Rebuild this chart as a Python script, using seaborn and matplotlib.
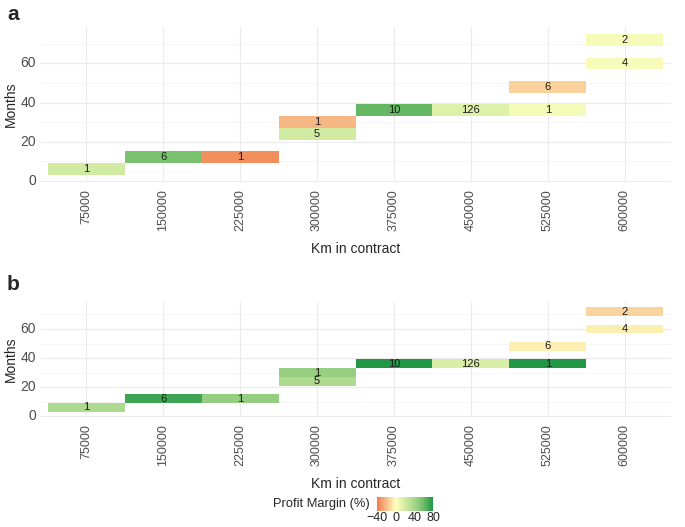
import numpy as np
import pandas as pd
import seaborn as sns
import matplotlib.pyplot as plt
from matplotlib.colors import LinearSegmentedColormap

# tiles: km in contract, months, number of contracts, profit margin (%)
km = [75000, 150000, 225000, 300000, 300000, 375000, 450000, 525000, 525000, 600000, 600000]
months = [6, 12, 12, 24, 30, 36, 36, 36, 48, 60, 72]
counts = [1, 6, 1, 5, 1, 10, 126, 1, 6, 4, 2]
margin_a = [20, 55, -34, 20, -22, 62, 15, 5, -14, 4, 4]
margin_b = [36, 72, 46, 36, 45, 79, 18, 79, -5, -5, -13]

km_levels = [75000, 150000, 225000, 300000, 375000, 450000, 525000, 600000]
month_levels = [6, 12, 18, 24, 30, 36, 42, 48, 54, 60, 66, 72]

sns.set_theme(style="white")
plt.rcParams["font.family"] = ["Liberation Sans", "DejaVu Sans"]

cmap = LinearSegmentedColormap.from_list(
    "pm", [(0.0, "#F07C4B"), (1/6, "#F8BE8C"), (1/3, "#FFFFBF"), (0.5, "#D3EBA2"),
           (2/3, "#A6D68A"), (5/6, "#6DBB68"), (1.0, "#1E9644")])

df = pd.DataFrame({"km": km, "months": months, "n": counts, "a": margin_a, "b": margin_b})

def grid(col):
    return df.pivot(index="months", columns="km", values=col).reindex(index=month_levels, columns=km_levels)

fig = plt.figure(figsize=(6.85, 5.27), dpi=100)
L, R = 40 / 685, 671 / 685
ax_a = fig.add_axes([L, 1 - 182 / 527, R - L, 155 / 527])
ax_b = fig.add_axes([L, 1 - 417 / 527, R - L, 115 / 527])
cax = fig.add_axes([377 / 685, 1 - 511 / 527, 56 / 685, 14 / 527])

to_y = lambda m: (np.asarray(m, dtype=float) - 3) / 6  # month -> heatmap row coord

for ax, col, first in [(ax_a, "a", True), (ax_b, "b", False)]:
    ax.set_axisbelow(True)
    sns.heatmap(grid(col), ax=ax, cmap=cmap, vmin=-40, vmax=80,
                annot=grid("n"), fmt=".0f", annot_kws={"color": "#1A1A1A", "fontsize": 8},
                cbar=not first, cbar_ax=None if first else cax,
                cbar_kws=None if first else {"orientation": "horizontal", "ticks": [-40, 0, 40, 80]})
    ax.set_xlim(-0.1, 8.1)
    ax.set_ylim(to_y(-0.6), to_y(78.6))
    ax.set_xticks(np.arange(8) + 0.5)
    ax.set_xticklabels([str(k) for k in km_levels], rotation=90, fontsize=9, color="#4D4D4D")
    ax.set_yticks(to_y([0, 20, 40, 60]))
    ax.set_yticklabels(["0", "20", "40", "60"], rotation=0, fontsize=10, color="#4D4D4D")
    ax.set_yticks(to_y([10, 30, 50, 70]), minor=True)
    ax.grid(True, which="major", color="#EBEBEB", lw=0.8)
    ax.grid(True, which="minor", axis="y", color="#F2F2F2", lw=0.5)
    ax.tick_params(length=0, pad=3)
    ax.tick_params(axis="x", pad=5)
    for s in ax.spines.values():
        s.set_visible(False)
    ax.set_xlabel("Km in contract", fontsize=10, labelpad=8)
    ax.set_ylabel("Months", fontsize=10, labelpad=2)

fig.text(7 / 685, 1 - 15 / 527, "a", fontsize=15, fontweight="bold", va="center")
fig.text(7 / 685, 1 - 285 / 527, "b", fontsize=15, fontweight="bold", va="center")

cax.tick_params(length=0, labelsize=9, pad=1)
cax.set_xticklabels(["\u221240", "0", "40", "80"])
ax_b.collections[0].colorbar.outline.set_visible(False)
fig.text(370 / 685, 1 - 504 / 527, "Profit Margin (%)", fontsize=9.3, ha="right", va="center")

fig.savefig("out.png", dpi=100)
